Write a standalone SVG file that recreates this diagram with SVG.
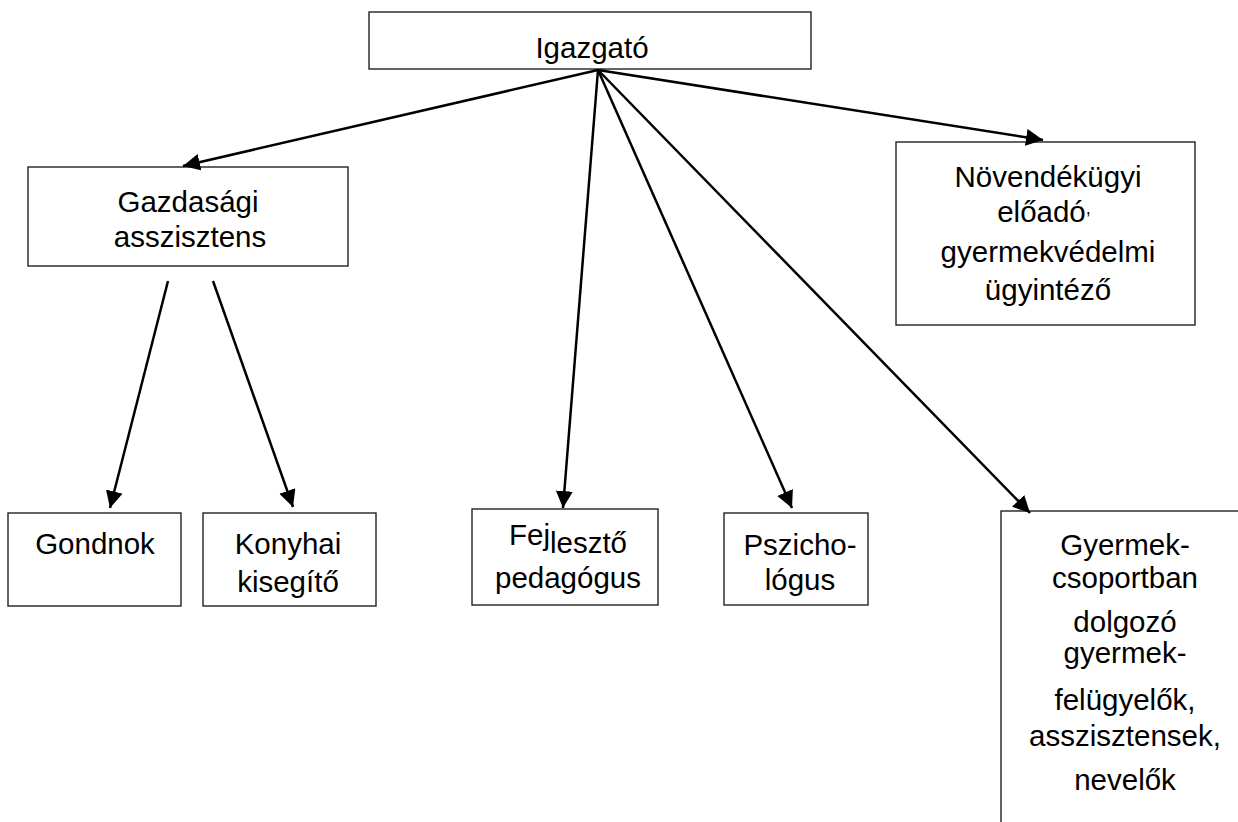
<svg xmlns="http://www.w3.org/2000/svg" width="1238" height="822" viewBox="0 0 1238 822">
<style>
.box{fill:#fff;stroke:#222;stroke-width:1.4}
.t{font-family:"Liberation Sans",Arial,sans-serif;font-size:29.5px;fill:#000;text-anchor:middle}
.c{stroke:#000;stroke-width:2.5;fill:none;marker-end:url(#ah)}
</style>
<defs>
<marker id="ah" markerUnits="userSpaceOnUse" markerWidth="18" markerHeight="18" refX="17" refY="8.5" orient="auto">
<path d="M0,0 L17,8.5 L0,17 Z" fill="#000"/>
</marker>
</defs>
<rect width="1238" height="822" fill="#fff"/>
<g id="igazgato"><rect class="box" x="369" y="12" width="442" height="57"/><text class="t" x="592" y="58">Igazgató</text></g>
<g id="gazdasagi"><rect class="box" x="28" y="167" width="320" height="99"/><text class="t" x="188" y="212">Gazdasági</text><text class="t" x="190" y="247">asszisztens</text></g>
<g id="novendek"><rect class="box" x="896" y="142" width="299" height="183"/><text class="t" x="1048" y="187">Növendékügyi</text><text class="t" x="1044" y="222">előadó<tspan font-size="18" dy="-8">,</tspan></text><text class="t" x="1048" y="262">gyermekvédelmi</text><text class="t" x="1048" y="300">ügyintéző</text></g>
<g id="gondnok"><rect class="box" x="8" y="513" width="173" height="93"/><text class="t" x="95" y="554">Gondnok</text></g>
<g id="konyhai"><rect class="box" x="203" y="513" width="173" height="93"/><text class="t" x="288" y="554">Konyhai</text><text class="t" x="288" y="592">kisegítő</text></g>
<g id="fejleszto"><rect class="box" x="472" y="509" width="186" height="96"/><text class="t" x="568" y="553"><tspan dy="-8">Fej</tspan><tspan dy="8">lesztő</tspan></text><text class="t" x="568" y="588">pedagógus</text></g>
<g id="pszicho"><rect class="box" x="724" y="513" width="144" height="92"/><text class="t" x="800" y="555">Pszicho-</text><text class="t" x="800" y="590">lógus</text></g>
<g id="gyermek"><rect class="box" x="1001" y="511" width="300" height="400"/><text class="t" x="1125" y="555">Gyermek-</text><text class="t" x="1125" y="588">csoportban</text><text class="t" x="1125" y="632">dolgozó</text><text class="t" x="1125" y="663">gyermek-</text><text class="t" x="1125" y="710">felügyelők,</text><text class="t" x="1125" y="746">asszisztensek,</text><text class="t" x="1125" y="790">nevelők</text></g>
<g id="connectors">
<line class="c" x1="598" y1="70" x2="183" y2="166"/>
<line class="c" x1="598" y1="70" x2="1043" y2="140"/>
<line class="c" x1="598" y1="70" x2="563" y2="508"/>
<line class="c" x1="598" y1="70" x2="792" y2="508"/>
<line class="c" x1="598" y1="70" x2="1030" y2="513"/>
<line class="c" x1="168" y1="281" x2="110" y2="508"/>
<line class="c" x1="213" y1="281" x2="293" y2="507"/>
</g>
</svg>
